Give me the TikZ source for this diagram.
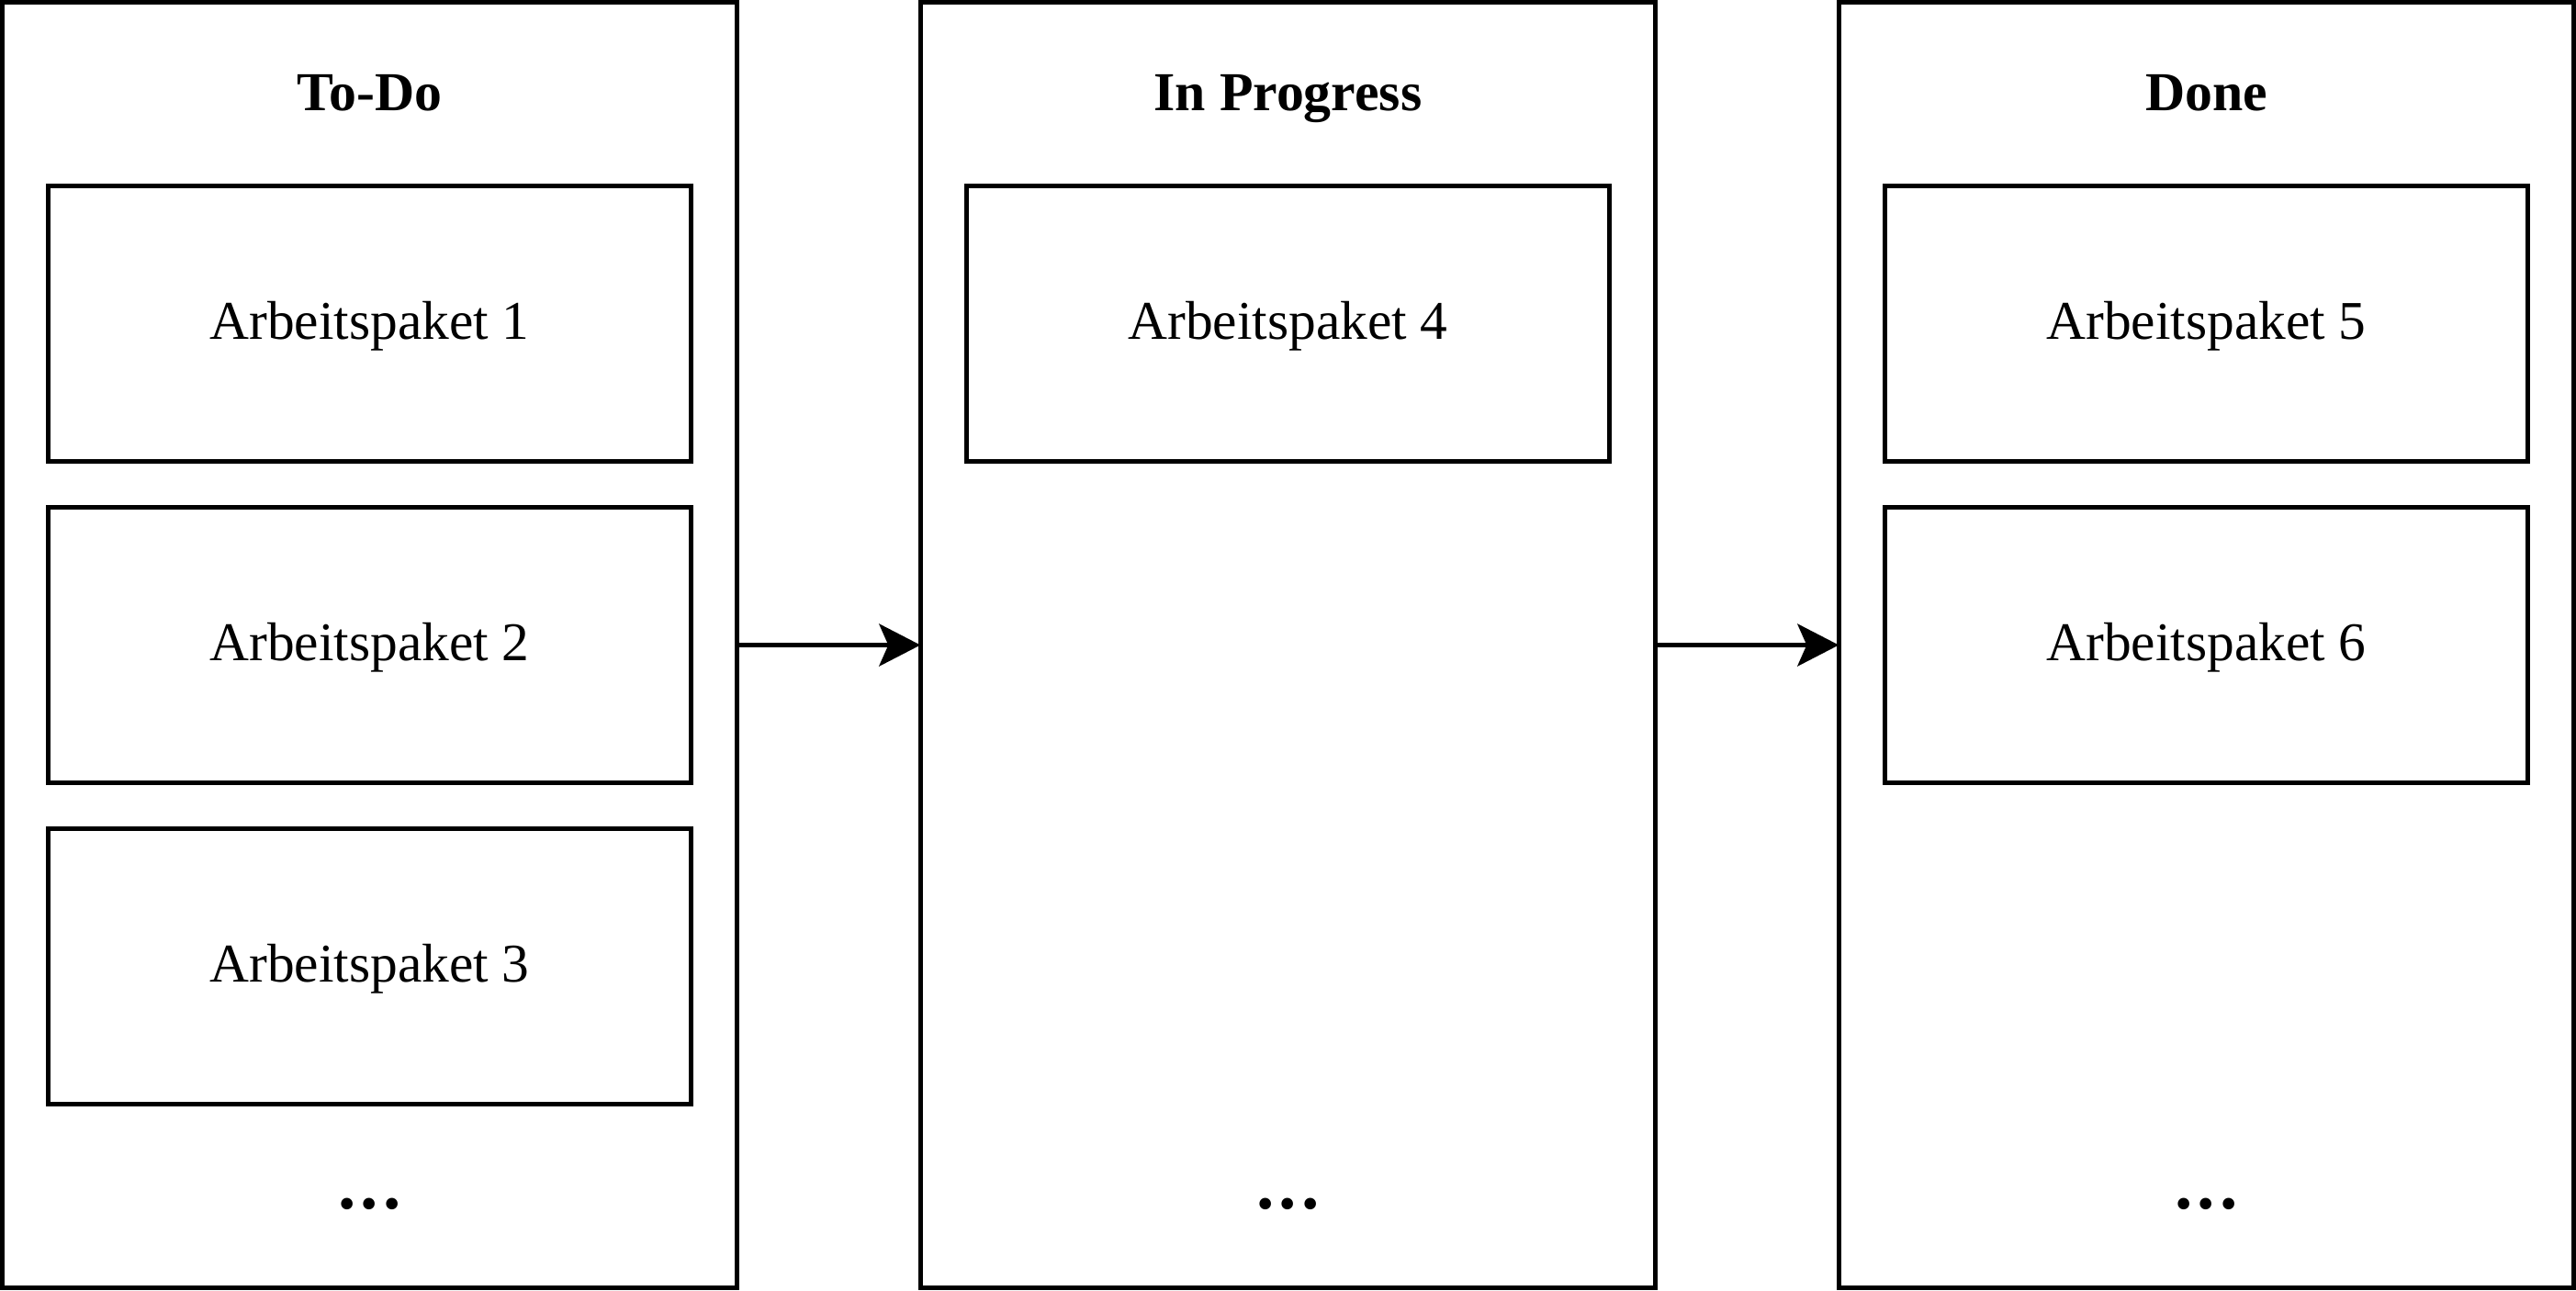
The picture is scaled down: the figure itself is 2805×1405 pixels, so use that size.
\documentclass[tikz,border=0pt]{standalone}
\usepackage{fontspec}
\setmainfont{Liberation Serif}
\usetikzlibrary{arrows.meta}
\begin{document}
\begin{tikzpicture}[x=0.01cm,y=-0.01cm,line width=1.42pt,
  >={Stealth[length=12.8pt,width=13.1pt,inset=2.85pt]},
  column/.style={draw,minimum width=8cm,minimum height=14cm,inner sep=0pt,outer sep=0pt},
  task/.style={draw,minimum width=7cm,minimum height=3cm,inner sep=0pt,
    text height=12.8pt,text depth=3.4pt,font=\fontsize{16.9}{20}\selectfont},
  title/.style={anchor=base,font=\fontsize{17}{20}\selectfont\bfseries},
  more/.style={anchor=base,font=\fontsize{22}{26}\selectfont\bfseries}]

\useasboundingbox (0,0) rectangle (2805,1405);

\node (todo) [column] at (402.5,702.5) {};
\node (progress) [column] at (1402.5,702.5) {};
\node (done) [column] at (2402.5,702.5) {};

\node (todotitle) [title] at (402.5,120) {To-Do};
\node (progresstitle) [title] at (1402.5,120) {In Progress};
\node (donetitle) [title] at (2402.5,120) {Done};

\node (ap1) [task] at (402.5,352.5) {Arbeitspaket 1};
\node (ap2) [task] at (402.5,702.5) {Arbeitspaket 2};
\node (ap3) [task] at (402.5,1052.5) {Arbeitspaket 3};
\node (ap4) [task] at (1402.5,352.5) {Arbeitspaket 4};
\node (ap5) [task] at (2402.5,352.5) {Arbeitspaket 5};
\node (ap6) [task] at (2402.5,702.5) {Arbeitspaket 6};

\node (tododots) [more] at (402.5,1316) {.\kern.07em.\kern.07em.};
\node (progressdots) [more] at (1402.5,1316) {.\kern.07em.\kern.07em.};
\node (donedots) [more] at (2402.5,1316) {.\kern.07em.\kern.07em.};

\path [->]
    (todo.east) edge (progress.west)
    (progress.east) edge (done.west)
;

\end{tikzpicture}
\end{document}
